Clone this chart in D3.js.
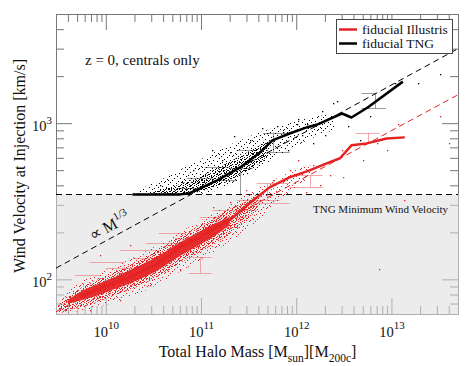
<!DOCTYPE html>
<html>
<head>
<meta charset="utf-8">
<script src="https://cdn.jsdelivr.net/npm/d3@7"></script>
<style>
  body { margin: 0; background: #fff; }
  svg text { font-family: "Liberation Serif", "Times New Roman", serif; fill: #111; }
  .tick line { stroke: #777; }
</style>
</head>
<body>
<div id="chart"></div>
<script>
/**
 * DATA
 * masses are log10(M200c / Msun), velocities in km/s
 */
const massDomain = [3e9, 5e13];
const velDomain = [60, 5000];
const tngMinWind = 350;

// median relations
const tngMedLogM = [10.28, 10.78, 10.88, 10.99, 11.17, 11.41, 11.62, 11.75, 11.93, 12.11, 12.22, 12.48, 12.58, 12.75, 13.12];
const tngMedV = [350, 350, 356, 383, 430, 521, 650, 776, 859, 939, 980, 1153, 1087, 1259, 1845];
const illMedLogM = [9.72, 9.82, 10.18, 10.53, 10.78, 10.99, 11.30, 11.51, 11.72, 11.93, 12.14, 12.32, 12.46, 12.58, 12.74, 12.95, 13.14];
const illMedV = [78, 82, 99, 124, 161, 186, 239, 307, 388, 450, 499, 553, 596, 721, 742, 798, 811];

// "proportional to M^1/3" guide lines, end points
const refLogM = [9.477, 13.699];
const refTngV = [118, 3000];
const refIllV = [62, 1520];

// Illustris scatter: solid core, dense and sparse envelopes
const illCoreLogM = [9.6, 9.8, 9.95, 10.1, 10.25, 10.4, 10.55, 10.7, 10.85, 11.0, 11.15, 11.3];
const illCoreLo = [70, 75, 80, 87, 94, 103, 114, 132, 150, 168, 190, 222];
const illCoreHi = [74, 88, 95, 104, 114, 126, 140, 162, 183, 205, 230, 250];
const illMidLogM = [9.5, 9.65, 9.8, 9.95, 10.1, 10.25, 10.4, 10.55, 10.7, 10.85, 11.0, 11.15, 11.3, 11.45, 11.6];
const illMidLo = [62, 64, 68, 73, 79, 86, 94, 104, 118, 135, 150, 170, 195, 230, 280];
const illMidHi = [68, 82, 93, 102, 112, 123, 137, 154, 176, 200, 225, 252, 282, 315, 345];
const illOuterLogM = [9.45, 9.6, 9.75, 9.9, 10.05, 10.2, 10.35, 10.5, 10.65, 10.8, 10.95, 11.1, 11.25, 11.4, 11.55, 11.7, 11.85, 12.0, 12.15];
const illOuterLo = [61, 61, 63, 66, 70, 75, 81, 90, 101, 114, 128, 145, 165, 190, 225, 270, 330, 390, 450];
const illOuterHi = [64, 86, 98, 108, 118, 130, 144, 160, 180, 204, 230, 258, 290, 330, 370, 415, 460, 510, 540];

// TNG scatter envelopes
const tngOuterLogM = [10.3, 10.45, 10.6, 10.75, 10.9, 11.05, 11.2, 11.35, 11.5, 11.65, 11.8, 11.95, 12.1, 12.25, 12.4];
const tngOuterLo = [350, 350, 350, 350, 350, 352, 375, 415, 470, 540, 610, 690, 770, 850, 900];
const tngOuterHi = [365, 400, 440, 490, 550, 610, 680, 750, 820, 890, 950, 1010, 1070, 1120, 1150];
const tngInnerLogM = [10.5, 10.65, 10.8, 10.95, 11.1, 11.25, 11.4, 11.55, 11.7];
const tngInnerLo = [350, 350, 350, 358, 380, 415, 460, 520, 600];
const tngInnerHi = [365, 385, 410, 445, 490, 545, 610, 690, 760];

// isolated halos
const tngPtLogM = [11.343, 13.033, 13.274, 13.505, 12.382, 12.77, 12.015, 11.857, 12.539, 12.424, 12.267, 12.004, 12.109, 12.172, 12.057, 11.301, 11.217, 10.913, 10.797, 11.689, 11.794, 10.567, 11.511, 11.637, 11.112, 11.91, 12.298, 12.665];
const tngPtV = [822, 1816, 1816, 2074, 1355, 1119, 1071, 873, 966, 1396, 1205, 995, 995, 752, 834, 650, 578, 499, 418, 859, 966, 400, 777, 925, 670, 670, 834, 776];
const illPtLogM = [12.865, 13.137, 13.505, 13.6, 13.064, 12.844, 12.697, 12.476, 12.487, 12.949, 11.93, 12.172, 11.752, 11.301, 11.70, 11.123, 11.469, 12.015, 12.246, 12.35, 12.099, 11.406, 11.616, 10.462, 10.777, 10.147, 9.832, 9.622, 9.57, 9.937, 10.25];
const illPtV = [116, 321, 1119, 741, 995, 752, 578, 670, 450, 670, 499, 537, 431, 312, 388, 290, 372, 578, 400, 463, 361, 277, 346, 92, 115, 74, 64, 74, 64, 143, 166];

// error bars: horizontal [logM1, logM2, V], vertical [logM, V1, V2]
const tngErrH = [[10.745, 10.955, 383], [10.85, 11.12, 443], [11.04, 11.30, 521], [11.375, 11.585, 669], [11.65, 11.90, 871], [11.69, 11.93, 650], [11.30, 11.54, 513], [11.165, 11.375, 431], [12.686, 12.843, 1550], [12.686, 12.94, 1242]];
const tngErrV = [[11.406, 351, 521], [11.752, 650, 871], [12.823, 1242, 1550]];
const illErrH = [[10.556, 10.84, 198], [10.42, 10.81, 171], [10.283, 10.63, 137], [10.0, 10.346, 118], [11.585, 11.93, 412], [11.375, 11.826, 321], [11.12, 11.585, 277], [10.986, 11.48, 250], [11.06, 11.406, 216], [11.54, 11.93, 307], [11.93, 12.277, 388], [12.0, 12.277, 463], [12.623, 12.875, 871], [10.87, 11.11, 139], [10.87, 11.11, 110], [10.147, 10.567, 154], [9.83, 10.2, 129], [10.724, 11.144, 184], [9.675, 9.937, 107]];
const illErrV = [[10.986, 110, 139], [12.749, 742, 871], [12.14, 388, 463], [11.69, 321, 412]];

// tick labels
const xLabelExp = [10, 11, 12, 13];
const yLabelExp = [2, 3];

/**
 * CONSTANTS
 */
const W = 474, H = 366;
const margin = { top: 14, right: 16, bottom: 52, left: 56 };
const red = "#e52222";

const svg = d3.select("#chart").append("svg").attr("width", W).attr("height", H);

const x = d3.scaleLog().domain(massDomain).range([margin.left, W - margin.right]);
const y = d3.scaleLog().domain(velDomain).range([H - margin.bottom, margin.top]);
const xm = lm => x(Math.pow(10, lm));

// patterns for speckled scatter clouds
const defs = svg.append("defs");
function speckle(id, w, h, dots, color) {
    defs.append("pattern").attr("id", id).attr("patternUnits", "userSpaceOnUse")
        .attr("width", w).attr("height", h)
        .selectAll("rect").data(dots).join("rect")
        .attr("x", d => d[0]).attr("y", d => d[1]).attr("width", 1).attr("height", 1)
        .attr("fill", color);
}
const sparseDots = [[0, 0], [6, 1], [11, 0], [15, 2], [3, 3], [9, 4], [13, 5], [1, 6], [7, 7], [16, 7], [4, 9], [10, 9], [14, 10], [2, 11], [8, 12], [12, 12], [5, 5], [15, 11]];
const denseDots = [[0, 0], [3, 0], [6, 1], [9, 0], [1, 2], [4, 2], [8, 2], [10, 3], [2, 4], [5, 4], [7, 5], [0, 5], [9, 6], [3, 6], [6, 7], [1, 8], [4, 8], [8, 8], [10, 7], [5, 2], [2, 6], [7, 3], [0, 3], [9, 4], [4, 5], [6, 0], [10, 1], [3, 8]];
speckle("blackSparse", 17, 13, sparseDots, "#000");
speckle("blackDense", 11, 9, denseDots, "#000");
speckle("redSparse", 17, 13, sparseDots, red);
speckle("redDense", 11, 9, denseDots, red);
defs.append("clipPath").attr("id", "plotClip").append("rect")
    .attr("x", margin.left).attr("y", margin.top)
    .attr("width", W - margin.left - margin.right).attr("height", H - margin.top - margin.bottom);

/**
 * AXES (ticks on all four sides, pointing inward)
 */
const isMajor = v => Math.abs(Math.log10(v) - Math.round(Math.log10(v))) < 1e-9;
const xMajor = x.ticks().filter(isMajor), xMinor = x.ticks().filter(v => !isMajor(v));
const yMajor = y.ticks().filter(isMajor), yMinor = y.ticks().filter(v => !isMajor(v));
const bottomY = H - margin.bottom, rightX = W - margin.right;

function tickRow(axis, vals, size, tr) {
    const g = svg.append("g").attr("transform", tr)
        .call(axis.tickValues(vals).tickSize(-size).tickFormat(""));
    g.select(".domain").remove();
}
tickRow(d3.axisBottom(x), xMinor, 8, `translate(0,${bottomY})`);
tickRow(d3.axisBottom(x), xMajor, 16, `translate(0,${bottomY})`);
tickRow(d3.axisTop(x), xMinor, 8, `translate(0,${margin.top})`);
tickRow(d3.axisTop(x), xMajor, 16, `translate(0,${margin.top})`);
tickRow(d3.axisLeft(y), yMinor, 8, `translate(${margin.left},0)`);
tickRow(d3.axisLeft(y), yMajor, 16, `translate(${margin.left},0)`);
tickRow(d3.axisRight(y), yMinor, 8, `translate(${rightX},0)`);
tickRow(d3.axisRight(y), yMajor, 16, `translate(${rightX},0)`);

svg.append("rect")
    .attr("x", margin.left + 0.5).attr("y", margin.top + 0.5)
    .attr("width", rightX - margin.left).attr("height", bottomY - margin.top)
    .attr("fill", "none").attr("stroke", "#777");

// shaded region below the TNG minimum wind velocity
svg.append("rect")
    .attr("x", margin.left).attr("y", y(tngMinWind))
    .attr("width", rightX - margin.left + 1).attr("height", bottomY - y(tngMinWind) + 1)
    .attr("fill", "#dcdcdc").attr("opacity", 0.55);

/**
 * DATA LAYER
 */
const plot = svg.append("g").attr("clip-path", "url(#plotClip)");

// error bars
function errBars(hs, vs, color, op) {
    plot.append("g").selectAll("line.h").data(hs).join("line")
        .attr("x1", d => xm(d[0])).attr("x2", d => xm(d[1]))
        .attr("y1", d => Math.round(y(d[2])) + 0.5).attr("y2", d => Math.round(y(d[2])) + 0.5)
        .attr("stroke", color).attr("stroke-opacity", op);
    plot.append("g").selectAll("line.v").data(vs).join("line")
        .attr("x1", d => Math.round(xm(d[0])) + 0.5).attr("x2", d => Math.round(xm(d[0])) + 0.5)
        .attr("y1", d => y(d[1])).attr("y2", d => y(d[2]))
        .attr("stroke", color).attr("stroke-opacity", op);
}
errBars(tngErrH, tngErrV, "#9a9a9a", 1);
errBars(illErrH, illErrV, "#ee8c8c", 0.75);

// guide lines
const dashed = (vals, color) => plot.append("line")
    .attr("x1", xm(refLogM[0])).attr("y1", y(vals[0]))
    .attr("x2", xm(refLogM[1])).attr("y2", y(vals[1]))
    .attr("stroke", color).attr("stroke-width", 1).attr("stroke-dasharray", "6,4");
dashed(refIllV, red);
dashed(refTngV, "#000");
plot.append("line")
    .attr("x1", margin.left).attr("x2", rightX)
    .attr("y1", Math.round(y(tngMinWind)) + 0.5).attr("y2", Math.round(y(tngMinWind)) + 0.5)
    .attr("stroke", "#000").attr("stroke-dasharray", "6,4");

// scatter clouds
function band(ms, lo, hi, fill, op) {
    const rows = ms.map((m, i) => ({ m, lo: lo[i], hi: hi[i] }));
    plot.append("path").datum(rows)
        .attr("d", d3.area().curve(d3.curveBasis)
            .x(d => xm(d.m)).y0(d => y(d.lo)).y1(d => y(d.hi)))
        .attr("fill", fill).attr("opacity", op);
}
band(illOuterLogM, illOuterLo, illOuterHi, "url(#redSparse)", 1);
band(illMidLogM, illMidLo, illMidHi, "url(#redDense)", 1);
band(illCoreLogM, illCoreLo, illCoreHi, red, 0.92);
band(tngOuterLogM, tngOuterLo, tngOuterHi, "url(#blackSparse)", 1);
band(tngInnerLogM, tngInnerLo, tngInnerHi, "url(#blackDense)", 1);

function dots(ms, vs, color) {
    plot.append("g").selectAll("rect").data(ms.map((m, i) => [m, vs[i]])).join("rect")
        .attr("x", d => Math.round(xm(d[0]))).attr("y", d => Math.round(y(d[1])))
        .attr("width", 1.3).attr("height", 1.3).attr("fill", color);
}
dots(tngPtLogM, tngPtV, "#000");
dots(illPtLogM, illPtV, red);

// medians
const medLine = d3.line().x(d => xm(d[0])).y(d => y(d[1]));
plot.append("path").datum(d3.zip(illMedLogM, illMedV)).attr("d", medLine)
    .attr("fill", "none").attr("stroke", red).attr("stroke-width", 2.5).attr("stroke-linejoin", "round");
plot.append("path").datum(d3.zip(tngMedLogM, tngMedV)).attr("d", medLine)
    .attr("fill", "none").attr("stroke", "#000").attr("stroke-width", 2.5).attr("stroke-linejoin", "round");

/**
 * TEXT
 */
function powerLabel(sel, exp, supSize, dy) {
    sel.append("tspan").text("10");
    sel.append("tspan").attr("dy", -dy).attr("font-size", supSize).text(exp);
}
svg.append("g").selectAll("text").data(xLabelExp).join("text")
    .attr("x", d => x(Math.pow(10, d)) + 0.5).attr("y", bottomY + 23)
    .attr("text-anchor", "middle").attr("font-size", 14.5)
    .each(function (d) { powerLabel(d3.select(this), d, 11, 8); });
svg.append("g").selectAll("text").data(yLabelExp).join("text")
    .attr("x", margin.left - 4).attr("y", d => y(Math.pow(10, d)) + 7.5)
    .attr("text-anchor", "end").attr("font-size", 14.5)
    .each(function (d) { powerLabel(d3.select(this), d, 11, 7); });

const xt = svg.append("text").attr("x", 257.5).attr("y", 357)
    .attr("text-anchor", "middle").attr("font-size", 16);
xt.append("tspan").text("Total Halo Mass [M");
xt.append("tspan").attr("dy", 5).attr("font-size", 11.5).text("sun");
xt.append("tspan").attr("dy", -5).text("][M");
xt.append("tspan").attr("dy", 5).attr("font-size", 11.5).text("200c");
xt.append("tspan").attr("dy", -5).text("]");

svg.append("text").attr("transform", "translate(25,166) rotate(-90)")
    .attr("text-anchor", "middle").attr("font-size", 16)
    .text("Wind Velocity at Injection [km/s]");

svg.append("text").attr("x", 85).attr("y", 65).attr("font-size", 15)
    .text("z = 0, centrals only");

svg.append("text").attr("x", 313).attr("y", 213).attr("font-size", 11)
    .attr("fill", "#222").text("TNG Minimum Wind Velocity");

// M^1/3 label aligned with the guide line
const ang = Math.atan2(y(refTngV[1]) - y(refTngV[0]), xm(refLogM[1]) - xm(refLogM[0])) * 180 / Math.PI;
const pl = svg.append("text").attr("transform", `translate(93,241) rotate(${ang})`).attr("font-size", 16);
pl.append("tspan").text("\u221D M");
pl.append("tspan").attr("dy", -7).attr("font-size", 11).text("1/3");

// legend
const legendItems = ["fiducial Illustris", "fiducial TNG"];
const legendColors = [red, "#000"];
const lg = svg.append("g").attr("transform", "translate(336,19)");
lg.append("rect").attr("x", 0.5).attr("y", 0.5).attr("width", 116).attr("height", 34)
    .attr("fill", "#fff").attr("stroke", "#444");
const li = lg.selectAll("g.item").data(legendItems).join("g")
    .attr("transform", (d, i) => `translate(0,${10.5 + i * 14})`);
li.append("line").attr("x1", 3).attr("x2", 21).attr("stroke", (d, i) => legendColors[i]).attr("stroke-width", 2.5);
li.append("text").attr("x", 26).attr("y", 4.5).attr("font-size", 13.5).text(d => d);
</script>
</body>
</html>
